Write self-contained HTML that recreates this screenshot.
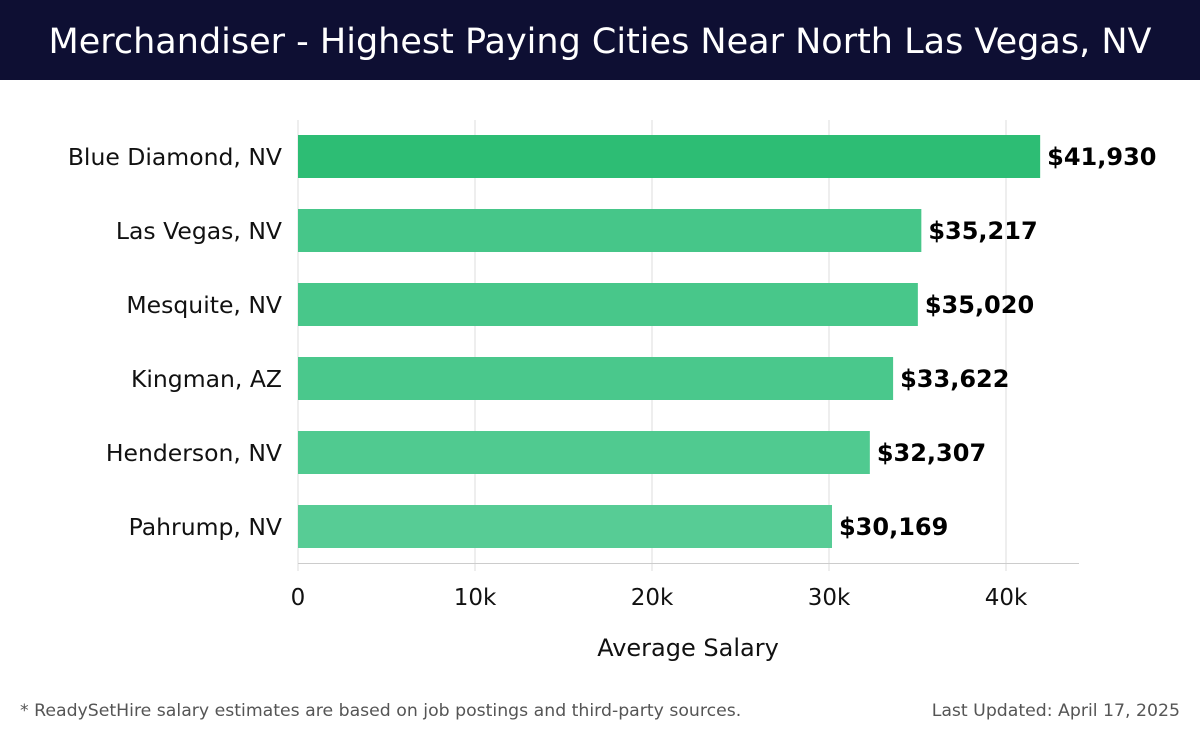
<!DOCTYPE html>
<html><head><meta charset="utf-8"><style>
body{margin:0;width:1200px;height:740px;background:#fff;font-family:"DejaVu Sans","Liberation Sans",sans-serif;overflow:hidden}
#hdr{position:absolute;left:0;top:0;width:1200px;height:80px;background:#0e0f33;color:#fff;font-size:35px;text-align:center;line-height:84px;white-space:nowrap}
.foot{position:absolute;top:701px;font-size:17.3px;color:#555;white-space:nowrap}
</style></head><body>
<div id="hdr">Merchandiser - Highest Paying Cities Near North Las Vegas, NV</div>
<svg id="c" width="1200" height="740" style="position:absolute;left:0;top:0;font-family:'DejaVu Sans',sans-serif"></svg>
<div class="foot" style="left:20px">* ReadySetHire salary estimates are based on job postings and third-party sources.</div>
<div class="foot" style="right:20px">Last Updated: April 17, 2025</div>
<script>
const cities=["Blue Diamond, NV","Las Vegas, NV","Mesquite, NV","Kingman, AZ","Henderson, NV","Pahrump, NV"];
const salaries=[41930,35217,35020,33622,32307,30169];
const ticks=[0,10000,20000,30000,40000];
const tickLabels=["0","10k","20k","30k","40k"];
const svg=document.getElementById('c');const NS="http://www.w3.org/2000/svg";
const x=v=>298+v*(708/40000);
const y=i=>135+i*74;
function el(t,a,txt){const e=document.createElementNS(NS,t);for(const k in a)e.setAttribute(k,a[k]);if(txt!==undefined)e.textContent=txt;svg.appendChild(e);return e;}
ticks.forEach((t,i)=>{
 const g=el('line',{x1:x(t),x2:x(t),y1:120,y2:571,stroke:'#ddd','stroke-width':1});
 
 
 const l=el('text',{x:x(t),y:605,'text-anchor':'middle','font-size':23,fill:'#111'},tickLabels[i]);
 
 
});
const ax=el('line',{x1:298,x2:1079,y1:563.5,y2:563.5,stroke:'#ccc'});


const colors=["#2dbd74","#46c689","#48c78a","#4ac88c","#50ca90","#57cc95"];
cities.forEach((c,i)=>{
 const r=el('rect',{x:298,y:y(i),width:x(salaries[i])-298,height:43,fill:colors[i]});
 
 
 const t=el('text',{x:282,y:y(i)+30,'text-anchor':'end','font-size':23.5,fill:'#111'},c);
 
 
 const v=el('text',{x:x(salaries[i])+7,y:y(i)+30,'font-size':24,'font-weight':'bold',fill:'#000'},'$'+salaries[i].toLocaleString('en-US'));
 
 
});
const xt=el('text',{x:688,y:656,'text-anchor':'middle','font-size':24,fill:'#111'},'Average Salary');


</script>
</body></html>
